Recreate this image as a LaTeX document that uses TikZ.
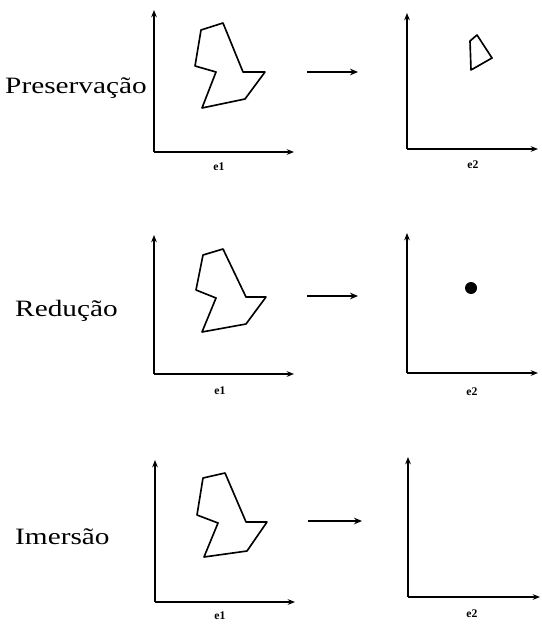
\documentclass[tikz,border=0pt]{standalone}
\usepackage{fontspec}
\setmainfont{Liberation Serif}
\usetikzlibrary{arrows.meta,positioning}
\tikzset{
  axis/.style={-{Stealth[length=2.2mm,width=1.7mm]}, line width=1.2pt},
  region/.style={line width=1.4pt, line join=round},
  maparr/.style={-{Stealth[length=2.4mm,width=2mm]}, line width=1.2pt},
  rowlbl/.style={font=\fontsize{20}{23}\selectfont, inner sep=0pt, anchor=west},
  axlbl/.style={font=\fontsize{10}{11}\selectfont\bfseries, inner sep=0pt},
}
\newcommand{\wide}[1]{\scalebox{1.25}[1]{#1}}

\begin{document}
\begin{tikzpicture}[x=0.03cm,y=-0.03cm]
  \useasboundingbox (0,0) rectangle (542,626);
  % row labels
  \node[rowlbl] (pres) at (5,88) {\wide{Preservação}};
  \node[rowlbl] (red) at (15,311) {\wide{Redução}};
  \node[rowlbl] (ime) at (15,537) {\wide{Imersão}};
  % row 1
  \coordinate (o1) at (154,152); \coordinate (p1) at (407,149);
  \draw[axis] (o1) -- (154,10); \draw[axis] (o1) -- (294,152);
  \draw[axis] (p1) -- (407,13); \draw[axis] (p1) -- (538,149);
  \draw[region] (201,30) -- (223,23) -- (243,72) -- (265,72) -- (245,99)
    -- (202,108) -- (216,72) -- (195,66) -- cycle;
  \draw[region] (470,41) -- (477,35) -- (492,58) -- (471,70) -- cycle;
  \node[axlbl] (e1a) at (219,167) {e1};
  \node[axlbl] (e2a) at (473,165) {e2};
  \coordinate (s1) at (307,72); \coordinate (t1) at (358,72);
  \draw[maparr] (s1) -- (t1);
  % row 2
  \coordinate (o2) at (154,374); \coordinate (p2) at (407,373);
  \draw[axis] (o2) -- (154,235); \draw[axis] (o2) -- (294,374);
  \draw[axis] (p2) -- (407,233); \draw[axis] (p2) -- (538,373);
  \draw[region] (203,255) -- (223,249) -- (246,297) -- (266,297) -- (246,324)
    -- (202,332) -- (216,298) -- (196,290) -- cycle;
  \fill (471,288) circle (6);
  \node[axlbl] (e1b) at (220,391) {e1};
  \node[axlbl] (e2b) at (472,392) {e2};
  \coordinate (s2) at (307,296); \coordinate (t2) at (358,296);
  \draw[maparr] (s2) -- (t2);
  % row 3
  \coordinate (o3) at (155,602); \coordinate (p3) at (408,597);
  \draw[axis] (o3) -- (155,460); \draw[axis] (o3) -- (295,602);
  \draw[axis] (p3) -- (408,457); \draw[axis] (p3) -- (540,597);
  \draw[region] (203,478) -- (225,473) -- (246,522) -- (267,522) -- (247,551)
    -- (204,557) -- (218,523) -- (197,515) -- cycle;
  \node[axlbl] (e1c) at (220,616) {e1};
  \node[axlbl] (e2c) at (472,614) {e2};
  \coordinate (s3) at (308,521); \coordinate (t3) at (362,521);
  \draw[maparr] (s3) -- (t3);
\end{tikzpicture}
\end{document}
